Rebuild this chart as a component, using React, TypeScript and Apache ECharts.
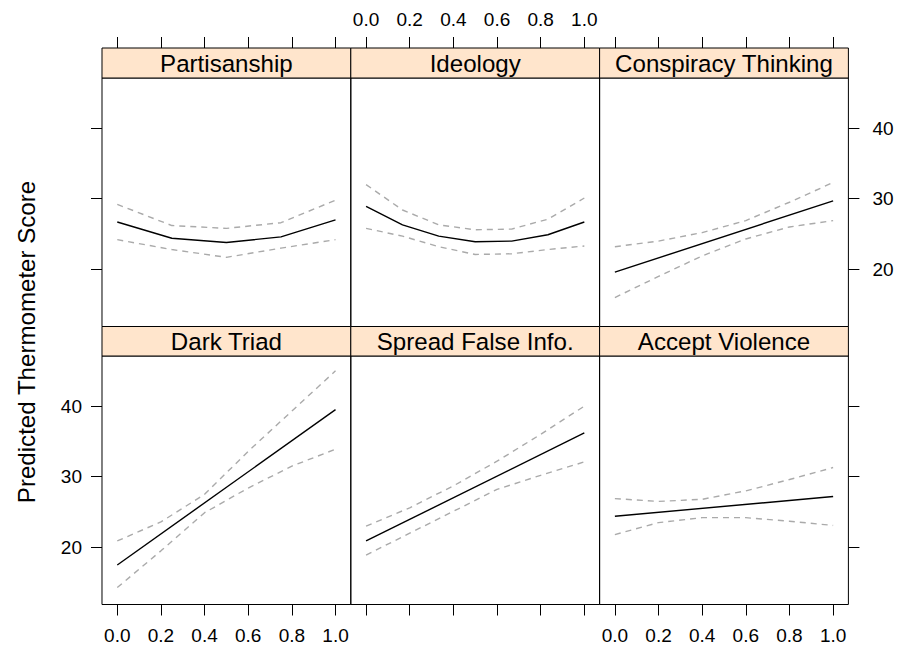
import React, { useEffect, useRef } from "react";
import * as echarts from "echarts";

// ---------- data ----------
const panelTitles = [
  "Partisanship",
  "Ideology",
  "Conspiracy Thinking",
  "Dark Triad",
  "Spread False Info.",
  "Accept Violence",
];

const xTicks = [0, 0.2, 0.4, 0.6, 0.8, 1.0];
const yTicks = [20, 30, 40];

// Partisanship
const partX = [0, 0.25, 0.5, 0.75, 1];
const partFit = [26.7, 24.4, 23.8, 24.6, 27.0];
const partUpper = [29.2, 26.2, 25.8, 26.6, 29.8];
const partLower = [24.2, 22.8, 21.7, 23.0, 24.2];

// Ideology
const ideoX = [0, 0.167, 0.333, 0.5, 0.667, 0.833, 1];
const ideoFit = [28.9, 26.3, 24.7, 23.9, 24.0, 24.9, 26.7];
const ideoUpper = [32.0, 28.4, 26.3, 25.6, 25.7, 27.1, 30.1];
const ideoLower = [25.8, 24.7, 23.2, 22.1, 22.2, 22.8, 23.3];

// Shared grid for CI bands of the continuous predictors
const bandX = [0, 0.2, 0.4, 0.6, 0.8, 1];
const lineX = [0, 1];

// Conspiracy Thinking
const conspFit = [19.6, 29.7];
const conspUpper = [23.2, 24.0, 25.2, 26.9, 29.5, 32.3];
const conspLower = [16.0, 19.0, 21.9, 24.3, 26.0, 26.9];

// Dark Triad
const darkFit = [17.5, 39.5];
const darkUpper = [20.9, 23.6, 27.5, 33.6, 39.3, 45.0];
const darkLower = [14.3, 19.5, 24.9, 28.4, 31.5, 33.9];

// Spread False Info.
const spreadFit = [20.9, 36.2];
const spreadUpper = [23.0, 25.6, 28.7, 32.2, 36.0, 40.0];
const spreadLower = [18.9, 22.0, 25.1, 28.2, 30.2, 32.1];

// Accept Violence
const violFit = [24.4, 27.2];
const violUpper = [26.9, 26.5, 26.8, 28.0, 29.6, 31.3];
const violLower = [21.8, 23.5, 24.2, 24.2, 23.7, 23.1];

const yLabel = "Predicted Thermometer Score";

// ---------- layout / style ----------
const FONT = "'Liberation Sans', Arial, Helvetica, sans-serif";
const COL_LEFT = [102, 350.8, 599.6];
const COL_W = 248.8;
const STRIP_TOP = [48, 326.5];
const STRIP_H = [30, 29.5];
const PANEL_TOP = [78, 356];
const PANEL_H = 248.5;
const X_MIN = -0.07;
const X_MAX = 1.07;
const Y_MIN = 11.9;
const Y_MAX = 47.1;
const TICK_FS = 19;
const STRIP_FS = 24.1;

const pairs = (xs: number[], ys: number[]) => xs.map((x, i) => [x, ys[i]]);

const panelData = [
  { fit: pairs(partX, partFit), up: pairs(partX, partUpper), lo: pairs(partX, partLower) },
  { fit: pairs(ideoX, ideoFit), up: pairs(ideoX, ideoUpper), lo: pairs(ideoX, ideoLower) },
  { fit: pairs(lineX, conspFit), up: pairs(bandX, conspUpper), lo: pairs(bandX, conspLower) },
  { fit: pairs(lineX, darkFit), up: pairs(bandX, darkUpper), lo: pairs(bandX, darkLower) },
  { fit: pairs(lineX, spreadFit), up: pairs(bandX, spreadUpper), lo: pairs(bandX, spreadLower) },
  { fit: pairs(lineX, violFit), up: pairs(bandX, violUpper), lo: pairs(bandX, violLower) },
];

function buildOption() {
  const grid: any[] = [];
  const xAxis: any[] = [];
  const yAxis: any[] = [];
  const series: any[] = [];
  const graphic: any[] = [];

  for (let i = 0; i < 6; i++) {
    const r = Math.floor(i / 3);
    const c = i % 3;
    grid.push({
      left: COL_LEFT[c],
      top: PANEL_TOP[r],
      width: COL_W,
      height: PANEL_H,
      show: true,
      borderColor: "#000",
      borderWidth: 1,
      backgroundColor: "transparent",
      containLabel: false,
    });

    const xLabelShown = r === 0 ? c === 1 : c !== 1;
    xAxis.push({
      type: "value",
      gridIndex: i,
      min: X_MIN,
      max: X_MAX,
      position: r === 0 ? "top" : "bottom",
      offset: r === 0 ? STRIP_H[0] : 0,
      axisLine: { show: false, onZero: false },
      splitLine: { show: false },
      axisTick: {
        show: true,
        inside: false,
        length: 11,
        customValues: xTicks,
        lineStyle: { color: "#000", width: 1 },
      },
      axisLabel: {
        show: xLabelShown,
        customValues: xTicks,
        formatter: (v: number) => v.toFixed(1),
        margin: r === 0 ? 19 : 21,
        color: "#000",
        fontSize: TICK_FS,
        fontFamily: FONT,
      },
    });

    const yTicksShown = c !== 1;
    const yLabelShown = (c === 0 && r === 1) || (c === 2 && r === 0);
    yAxis.push({
      type: "value",
      gridIndex: i,
      min: Y_MIN,
      max: Y_MAX,
      position: c === 2 ? "right" : "left",
      axisLine: { show: false, onZero: false },
      splitLine: { show: false },
      axisTick: {
        show: yTicksShown,
        inside: false,
        length: 11,
        customValues: yTicks,
        lineStyle: { color: "#000", width: 1 },
      },
      axisLabel: {
        show: yLabelShown,
        customValues: yTicks,
        margin: c === 2 ? 24 : 20,
        color: "#000",
        fontSize: TICK_FS,
        fontFamily: FONT,
      },
    });

    const d = panelData[i];
    const dashed = {
      color: "#AAAAAA",
      width: 1.4,
      type: [6, 5],
    };
    series.push({
      type: "line",
      xAxisIndex: i,
      yAxisIndex: i,
      data: d.up,
      symbol: "none",
      lineStyle: dashed,
      silent: true,
    });
    series.push({
      type: "line",
      xAxisIndex: i,
      yAxisIndex: i,
      data: d.lo,
      symbol: "none",
      lineStyle: dashed,
      silent: true,
    });
    series.push({
      type: "line",
      xAxisIndex: i,
      yAxisIndex: i,
      data: d.fit,
      symbol: "none",
      lineStyle: { color: "#000", width: 1.4 },
      silent: true,
    });

    // strip
    graphic.push({
      type: "rect",
      shape: { x: COL_LEFT[c], y: STRIP_TOP[r], width: COL_W, height: STRIP_H[r] },
      style: { fill: "#FFE5CC", stroke: "#000", lineWidth: 1 },
      z: 10,
    });
    graphic.push({
      type: "text",
      x: COL_LEFT[c] + COL_W / 2,
      y: STRIP_TOP[r] + STRIP_H[r] / 2 + 0.5,
      style: {
        text: panelTitles[i],
        fill: "#000",
        fontSize: STRIP_FS,
        fontFamily: FONT,
        align: "center",
        verticalAlign: "middle",
      },
      z: 11,
    });
  }

  graphic.push({
    type: "text",
    x: 26,
    y: 342,
    rotation: Math.PI / 2,
    style: {
      text: yLabel,
      fill: "#000",
      fontSize: STRIP_FS,
      fontFamily: FONT,
      align: "center",
      verticalAlign: "middle",
    },
  });

  return {
    animation: false,
    backgroundColor: "#fff",
    grid,
    xAxis,
    yAxis,
    series,
    graphic,
  };
}

export default function App() {
  const ref = useRef<HTMLDivElement>(null);
  useEffect(() => {
    if (!ref.current) return;
    const chart = echarts.init(ref.current, undefined, { renderer: "svg" });
    chart.setOption(buildOption() as any);
    return () => chart.dispose();
  }, []);
  return (
    <div
      ref={ref}
      style={{ position: "absolute", left: 0, top: 0, width: 898, height: 645 }}
    />
  );
}
